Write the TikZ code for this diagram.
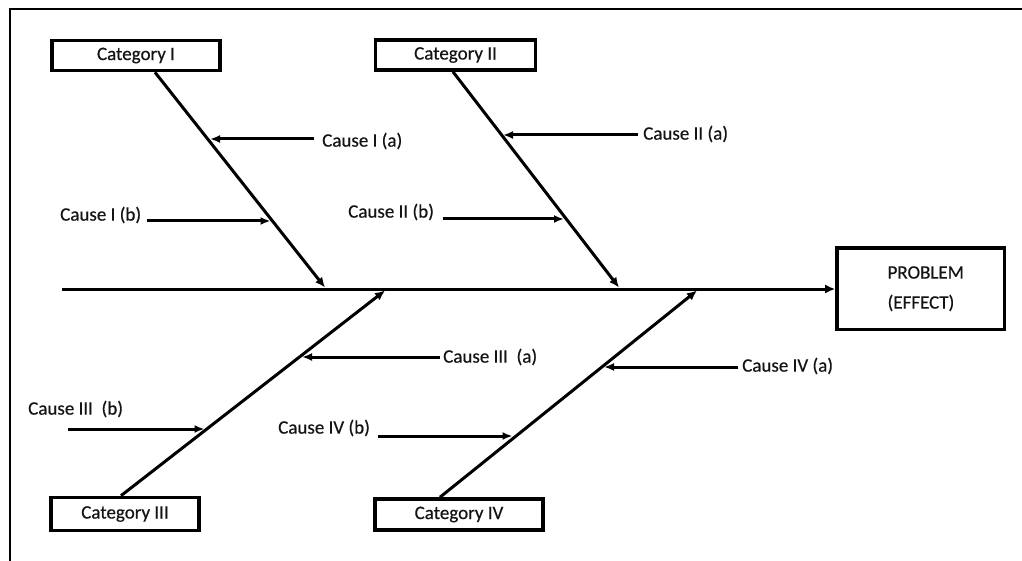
\documentclass[tikz,border=0pt]{standalone}
\usepackage{fontspec}
\setmainfont[FakeBold=0.5,AutoFakeBold=0.5]{Carlito}
\usetikzlibrary{arrows.meta}
\begin{document}
\begin{tikzpicture}[x=1pt,y=-1pt,
  txt/.style={text=black!92, font=\fontsize{19}{23}\selectfont},
  box/.style={draw=black, line width=3.6pt, inner sep=0pt, txt},
  lbl/.style={anchor=west, inner sep=0pt, txt},
  bone/.style={draw=black, line width=3pt, -{Latex[length=10pt,width=9pt]}},
  cause/.style={draw=black, line width=3pt, -{Latex[length=10pt,width=8pt]}},
]
\useasboundingbox (0,0) rectangle (1022,561);

% frame lines along the top and left edges
\draw[line width=2.6pt] (1022,9) -- (10,9) -- (10,561);

% category boxes
\node[box, minimum width=168pt, minimum height=30pt] (c1) at (136,55.5) {Category I};
\node[box, minimum width=160pt, minimum height=30pt] (c2) at (455.5,55) {Category II};
\node[box, minimum width=147.5pt, minimum height=33pt] (c3) at (125,514) {Category III};
\node[box, minimum width=168pt, minimum height=31pt] (c4) at (459,514.5) {Category IV};

% effect box
\node[box, minimum width=167.5pt, minimum height=81.5pt, align=left,
      font=\fontsize{19}{30}\selectfont] (pb) at (920.75,288.75)
      {\hspace*{10pt}PROBLEM\\\hspace*{10pt}(EFFECT)};

% spine
\coordinate (tail) at (62,289);
\draw[bone] (tail) -- (pb.west |- tail);

% where the bones meet the spine
\coordinate (j1) at (325,287.5);
\coordinate (j2) at (619,287.5);
\coordinate (j3) at (385,290.5);
\coordinate (j4) at (697,290.5);

% bones
\draw[bone] ([xshift=19pt]c1.south) -- (j1);
\draw[bone] ([xshift=-2.5pt]c2.south) -- (j2);
\draw[bone] ([xshift=-4pt]c3.north) -- (j3);
\draw[bone] ([xshift=-19pt]c4.north) -- (j4);

% cause labels
\node[lbl] (ca1) at (322,141) {Cause I (a)};
\node[lbl] (cb1) at (60,215) {Cause I (b)};
\node[lbl] (ca2) at (643,134) {Cause II (a)};
\node[lbl] (cb2) at (348,212) {Cause II (b)};
\node[lbl] (ca3) at (443,357) {Cause III\ \ (a)};
\node[lbl] (cb3) at (28,409) {Cause III\ \ (b)};
\node[lbl] (ca4) at (742,366) {Cause IV (a)};
\node[lbl] (cb4) at (278,428) {Cause IV (b)};

% points where cause arrows touch the bones
\coordinate (p1a) at (210,139);
\coordinate (p1b) at (270.5,221);
\coordinate (p2a) at (503,135);
\coordinate (p2b) at (564,219);
\coordinate (p3a) at (302,357);
\coordinate (p3b) at (204.5,429);
\coordinate (p4a) at (604,367);
\coordinate (p4b) at (512.5,436);

% tails of the cause arrows below their labels
\coordinate (s1b) at (147,221);
\coordinate (s2b) at (443,219);
\coordinate (s3b) at (68,429);
\coordinate (s4b) at (378,436);

% cause arrows
\draw[cause] ([xshift=-8pt]ca1.west |- p1a) -- (p1a);
\draw[cause] (s1b) -- (p1b);
\draw[cause] ([xshift=-5pt]ca2.west |- p2a) -- (p2a);
\draw[cause] (s2b) -- (p2b);
\draw[cause] ([xshift=-3pt]ca3.west |- p3a) -- (p3a);
\draw[cause] (s3b) -- (p3b);
\draw[cause] ([xshift=-4pt]ca4.west |- p4a) -- (p4a);
\draw[cause] (s4b) -- (p4b);
\end{tikzpicture}
\end{document}
